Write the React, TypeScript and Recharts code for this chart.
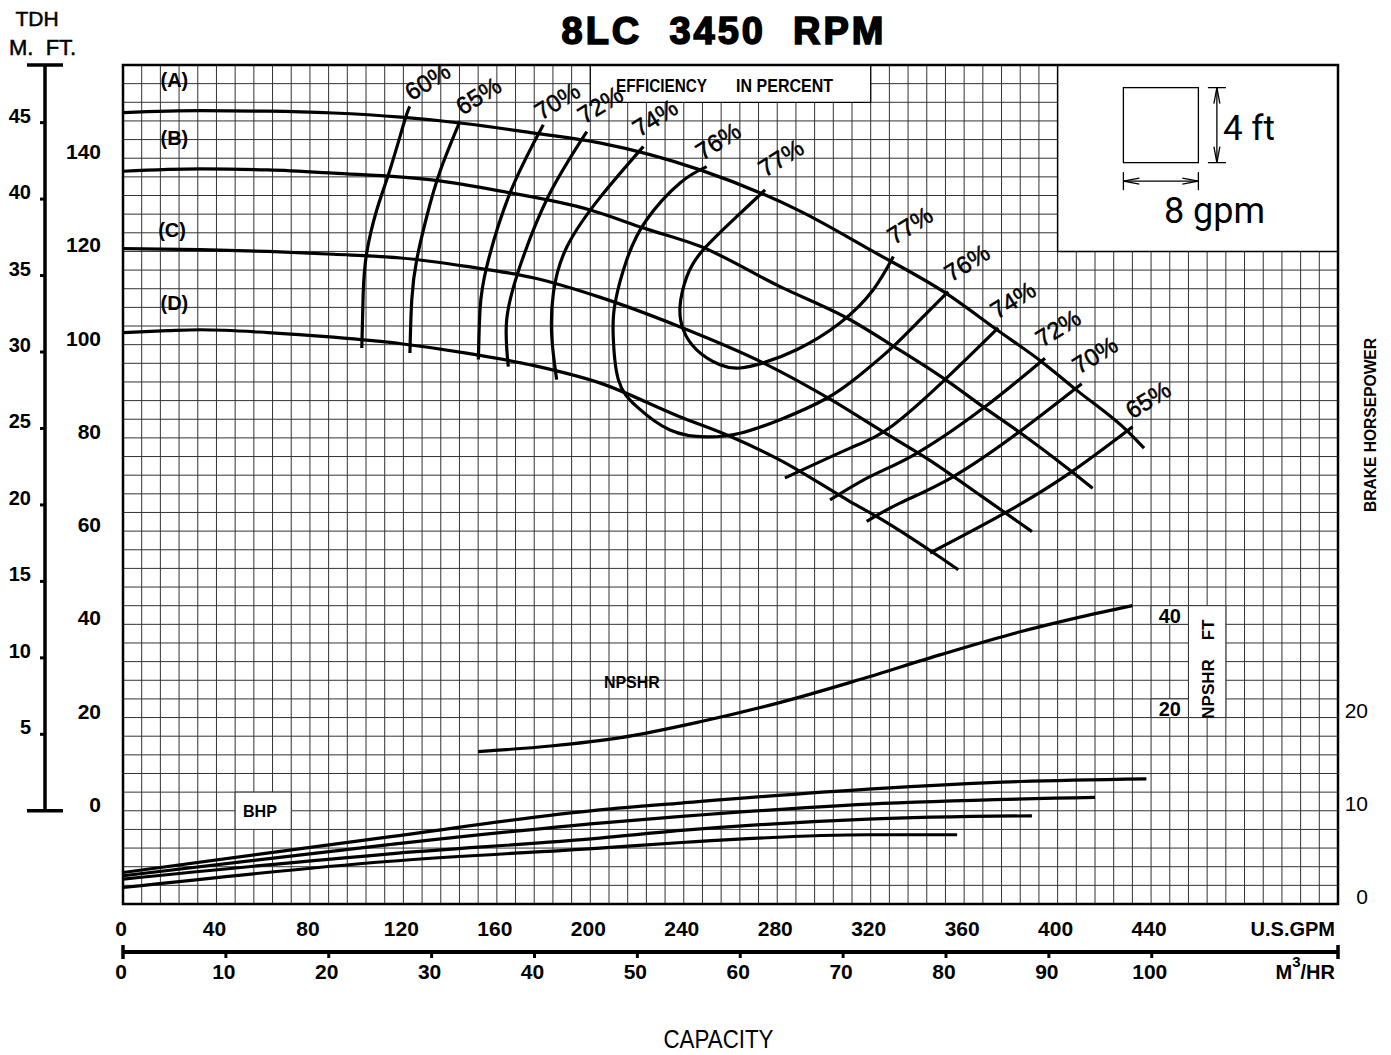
import React from "react";
import {
  ComposedChart,
  Line,
  XAxis,
  YAxis,
  CartesianGrid,
  ReferenceArea,
  ReferenceDot,
} from "recharts";

const SANS = "'Liberation Sans', Arial, Helvetica, sans-serif";
const NARROW = "'Liberation Sans Narrow', 'Arial Narrow', 'Liberation Sans', sans-serif";

const GPM_PER_M3H = 4.40287;
const FT_PER_M = 3.28084;

const GPM_MAX = 520;
const FT_MIN = -20;
const FT_MAX = 160;
const M_MIN = FT_MIN / FT_PER_M;
const M_MAX = FT_MAX / FT_PER_M;
const BHP_MAX = 90; // 0 bhp sits on the -20 ft line, 10 bhp per 20 ft

// grid is 8 gpm x 4 ft
const GRID_GPM = Array.from({ length: GPM_MAX / 8 + 1 }, (_, i) => i * 8);
const GRID_FT = Array.from({ length: (FT_MAX - FT_MIN) / 4 + 1 }, (_, i) => FT_MIN + i * 4);

const GPM_LABELS = [0, 40, 80, 120, 160, 200, 240, 280, 320, 360, 400, 440];
const M3_LABELS = [0, 10, 20, 30, 40, 50, 60, 70, 80, 90, 100];
const FT_LABELS = [0, 20, 40, 60, 80, 100, 120, 140];
const M_LABELS = [0, 5, 10, 15, 20, 25, 30, 35, 40, 45];
const BHP_LABELS = [0, 10, 20];

// m3/hr scale drawn on the gpm axis: tick positions in gpm, plus the right end
const M3_TICKS = [...M3_LABELS.map((v) => v * GPM_PER_M3H), GPM_MAX];

// head curves per impeller trim, [gpm, ft]
const headA = [
  [0, 149.8], [33, 150.2], [62, 150.1], [90, 149.7], [119, 148.8], [147, 147.4],
  [176, 145.4], [204, 143.3], [247, 137.5], [290, 128.6], [321, 120.0], [352, 111.1],
  [374, 103.2], [393, 96.4], [408, 90.3], [430, 81.4], [437, 77.8],
];
const headB = [
  [0, 137.2], [33, 137.7], [62, 137.5], [90, 136.8], [133, 135.3], [161, 133.0],
  [200, 128.9], [223, 125.0], [247, 121.1], [281, 112.5], [311, 105.4], [330, 99.6],
  [352, 92.5], [368, 86.7], [384, 81.1], [406, 72.8], [415, 69.2],
];
const headC = [
  [0, 120.6], [33, 120.4], [62, 120.0], [90, 119.4], [119, 118.6], [147, 116.8],
  [176, 114.3], [204, 110.2], [238, 103.9], [274, 96.1], [303, 88.2], [324, 81.7],
  [345, 75.3], [368, 67.3], [389, 59.9],
];
const headD = [
  [0, 102.6], [19, 103.0], [33, 103.2], [62, 102.6], [90, 101.6], [119, 100.2],
  [147, 98.2], [176, 95.5], [204, 91.8], [238, 84.6], [260, 80.3], [281, 75.3],
  [311, 66.4], [325, 62.4], [347, 55.3], [357.5, 51.7],
];

// iso-efficiency lines, [gpm, ft]
const eff60 = [[122.8, 151.1], [120.7, 148.3], [114.3, 137.6], [108.6, 128.9], [104.3, 119.7], [102.8, 111.1], [102.2, 99.3]];
const eff65 = [[144.2, 147.9], [135.7, 137.2], [130.0, 127.5], [125.7, 118.2], [123.6, 109.7], [122.8, 98.2]];
const eff70 = [[179.9, 147.2], [165.6, 132.5], [155.7, 116.8], [152.8, 107.5], [152.1, 96.8]];
const eff72 = [[198.5, 145.7], [182.0, 131.8], [169.9, 116.8], [164.2, 105.3], [164.9, 95.3]];
const eff74 = [[222.7, 142.5], [204.2, 131.6], [189.9, 120.9], [184.2, 111.1], [183.5, 101.8], [185.6, 92.5]];
const eff76 = [
  [249.8, 138.2], [238.4, 134.7], [224.1, 126.8], [215.6, 118.2], [210.6, 108.9], [209.8, 101.8],
  [212.0, 92.5], [219.9, 86.7], [234.1, 81.7], [249.8, 80.2], [264.1, 81.0], [281.2, 83.9],
  [301.2, 88.5], [315.4, 93.5], [329.0, 99.3], [341.1, 105.3], [353.2, 111.4],
];
const eff77 = [
  [274.8, 133.2], [262.7, 127.5], [248.4, 120.4], [241.3, 114.6], [238.4, 108.2], [239.8, 103.2],
  [245.5, 98.9], [255.5, 95.7], [264.1, 95.0], [274.0, 96.1], [288.3, 98.9], [306.7, 104.6],
  [321.1, 111.8], [329.7, 118.9],
];
const eff74r = [[374.6, 103.6], [351.8, 92.5], [329.0, 82.5], [311.2, 77.8], [283.3, 71.4]];
const eff72r = [[394.6, 97.1], [368.2, 86.4], [339.7, 76.7], [319.7, 71.7], [302.6, 66.7]];
const eff70r = [[410.3, 91.6], [383.9, 81.4], [355.4, 71.7], [332.5, 66.0], [318.3, 62.1]];
const eff65r = [[432.1, 82.4], [405.3, 72.5], [377.5, 63.9], [345.4, 55.3]];

// NPSHR, [gpm, ft]
const npshr = [
  [152, 12.7], [183, 13.9], [213, 15.7], [247, 19.1], [281, 23.2], [315, 28.1],
  [350, 33.5], [384, 38.4], [410, 41.6], [432, 44.0],
];

// brake horsepower per trim, [gpm, bhp]
const bhpA = [[0, 3.38], [113, 7.18], [204, 10.1], [239, 10.83], [319, 12.33], [384, 13.14], [438, 13.43]];
const bhpB = [[0, 3.03], [113, 6.35], [204, 8.68], [239, 9.39], [319, 10.72], [416, 11.43]];
const bhpC = [[0, 2.67], [113, 5.36], [204, 7.07], [239, 7.89], [319, 9.11], [389, 9.46]];
const bhpD = [[0, 1.77], [113, 4.56], [204, 6.0], [239, 6.6], [319, 7.43], [357, 7.43]];

const HEADS = [headA, headB, headC, headD];
const EFFS = [eff60, eff65, eff70, eff72, eff74, eff76, eff77, eff74r, eff72r, eff70r, eff65r];
const BHPS = [bhpA, bhpB, bhpC, bhpD];

const headNames = ["(A)", "(B)", "(C)", "(D)"];
const headLabelAt = [[22, 156.8], [22, 144.4], [21, 124.6], [22, 109]];

const effNames = ["60%", "65%", "70%", "72%", "74%", "76%", "77%", "77%", "76%", "74%", "72%", "70%", "65%"];
const effLabelAt = [
  [130.3, 156.5], [152.1, 153.4], [185.8, 152.3], [204.2, 151.5], [227.7, 148.7], [254.7, 143.7],
  [281.6, 140.1], [336.8, 125.6], [361.2, 117.6], [380.9, 109.6], [400.2, 103.6], [416, 97.8], [438.7, 88.2],
];

const W = 1391;
const H = 1055;
const TOP = 65;
const GPM_AXIS_H = 48;
const M3_AXIS_H = 103;
const PLOT_H = H - TOP - GPM_AXIS_H - M3_AXIS_H;
const PX_PER_M = PLOT_H / (M_MAX - M_MIN);
const LINE_W = 3.2;

const curve = (rows: number[][]) => rows.map(([x, y]) => ({ x, y }));

const FtTick = ({ x, y, payload }: any) => {
  const v = payload.value;
  if (!FT_LABELS.includes(v)) return <g />;
  return (
    <text x={x - 22} y={y + 1} textAnchor="end" fontFamily={SANS} fontWeight="bold" fontSize={21} fill="#000">
      {v}
    </text>
  );
};

const MTick = ({ x, y, payload }: any) => {
  const v = payload.value;
  if (v === 0) {
    const top = y - (M_MAX - v) * PX_PER_M;
    return (
      <g stroke="#000">
        <line x1={x} x2={x} y1={y} y2={top} strokeWidth={3.5} />
        <line x1={x - 18} x2={x + 18} y1={y} y2={y} strokeWidth={3.5} />
        <line x1={x - 18} x2={x + 18} y1={top} y2={top} strokeWidth={3.5} />
      </g>
    );
  }
  return (
    <g>
      <line x1={x - 5} x2={x} y1={y} y2={y} stroke="#000" strokeWidth={3} />
      <text x={x - 14} y={y} textAnchor="end" fontFamily={SANS} fontWeight="bold" fontSize={20} fill="#000">
        {v}
      </text>
    </g>
  );
};

const BhpTick = ({ x, y, payload }: any) => (
  <text x={x + 30} y={y} textAnchor="end" fontFamily={SANS} fontSize={21} fill="#000">
    {payload.value}
  </text>
);

const GpmTick = ({ x, y, payload }: any) => {
  const v = payload.value;
  if (!GPM_LABELS.includes(v)) return <g />;
  return (
    <text x={x - 2} y={y + 32} textAnchor="middle" fontFamily={SANS} fontWeight="bold" fontSize={21} fill="#000">
      {v}
    </text>
  );
};

const M3Tick = ({ x, y, payload }: any) => {
  const m3 = Math.round(payload.value / GPM_PER_M3H);
  const isEnd = payload.value >= GPM_MAX - 0.01;
  const cap = m3 === 0 || isEnd;
  return (
    <g>
      {cap ? (
        <line x1={x} x2={x} y1={y - 7} y2={y + 7} stroke="#000" strokeWidth={3.5} />
      ) : (
        <line x1={x} x2={x} y1={y} y2={y + 6} stroke="#000" strokeWidth={3} />
      )}
      {!isEnd && (
        <text x={x - 2} y={y + 27} textAnchor="middle" fontFamily={SANS} fontWeight="bold" fontSize={21} fill="#000">
          {m3}
        </text>
      )}
    </g>
  );
};

const GpmLabel = ({ viewBox }: any) => (
  <text x={viewBox.x + viewBox.width - 3} y={viewBox.y + 32} textAnchor="end" fontFamily={SANS} fontWeight="bold" fontSize={20} fill="#000">
    U.S.GPM
  </text>
);

const M3Label = ({ viewBox }: any) => (
  <g>
    <text x={viewBox.x + viewBox.width - 3} y={viewBox.y + 27} textAnchor="end" fontFamily={SANS} fontWeight="bold" fontSize={20} fill="#000">
      <tspan>M</tspan>
      <tspan dy={-12} fontSize={15}>3</tspan>
      <tspan dy={12}>/HR</tspan>
    </text>
    <text x={viewBox.x + viewBox.width / 2 - 12} y={viewBox.y + 96} textAnchor="middle" fontFamily={NARROW} fontSize={25} textLength={110} lengthAdjust="spacingAndGlyphs" fill="#000">
      CAPACITY
    </text>
  </g>
);

const BhpLabel = ({ viewBox }: any) => {
  const cx = viewBox.x + 32;
  const cy = viewBox.y + 360;
  return (
    <text x={cx} y={cy} transform={`rotate(-90 ${cx} ${cy})`} textAnchor="middle" dominantBaseline="central" fontFamily={NARROW} fontWeight="bold" fontSize={16} textLength={174} lengthAdjust="spacingAndGlyphs" fill="#000">
      BRAKE HORSEPOWER
    </text>
  );
};

const textAt = (t: string, opts: any = {}) => (p: any) => {
  const { rot = 0, size = 18, weight = "normal", family = SANS, anchor = "middle", base = "central", sw = 0, len } = opts;
  return (
    <text
      x={p.cx}
      y={p.cy}
      transform={rot ? `rotate(${rot} ${p.cx} ${p.cy})` : undefined}
      textAnchor={anchor}
      dominantBaseline={base}
      fontFamily={family}
      fontWeight={weight}
      fontSize={size}
      textLength={len}
      lengthAdjust={len ? "spacingAndGlyphs" : undefined}
      fill="#000"
      stroke={sw ? "#000" : "none"}
      strokeWidth={sw}
      style={{ whiteSpace: "pre" }}
    >
      {t}
    </text>
  );
};

const LegendGlyph = ({ cx, cy }: any) => {
  const s = 37.5;
  const ax = cx + 56;
  const ay = cy + 56;
  return (
    <g stroke="#000" fill="none" strokeWidth={1.3}>
      <rect x={cx - s} y={cy - s} width={2 * s} height={2 * s} fill="#fff" />
      <line x1={ax} x2={ax} y1={cy - s} y2={cy + s} />
      <line x1={ax - 9} x2={ax + 9} y1={cy - s} y2={cy - s} />
      <line x1={ax - 9} x2={ax + 9} y1={cy + s} y2={cy + s} />
      <polyline points={`${ax - 3},${cy - s + 16} ${ax},${cy - s} ${ax + 3},${cy - s + 16}`} />
      <polyline points={`${ax - 3},${cy + s - 16} ${ax},${cy + s} ${ax + 3},${cy + s - 16}`} />
      <line x1={cx - s} x2={cx + s} y1={ay} y2={ay} />
      <line x1={cx - s} x2={cx - s} y1={ay - 9} y2={ay + 9} />
      <line x1={cx + s} x2={cx + s} y1={ay - 9} y2={ay + 9} />
      <polyline points={`${cx - s + 16},${ay - 3} ${cx - s},${ay} ${cx - s + 16},${ay + 3}`} />
      <polyline points={`${cx + s - 16},${ay - 3} ${cx + s},${ay} ${cx + s - 16},${ay + 3}`} />
      <text x={ax + 6} y={cy + 15} stroke="none" fill="#000" fontFamily="Roboto, sans-serif" fontSize={35}>
        4 ft
      </text>
      <text x={cx + 3} y={cy + 98} stroke="none" fill="#000" fontFamily="Roboto, sans-serif" fontSize={36}>
        8 gpm
      </text>
    </g>
  );
};

const whiteBox = { fill: "#fff", fillOpacity: 1, stroke: "#333", strokeWidth: 1 };

export default function App() {
  return (
    <div style={{ position: "absolute", left: 0, top: 0, width: W, height: H, background: "#fff" }}>
      <svg width={W} height={H} style={{ position: "absolute", left: 0, top: 0, pointerEvents: "none" }}>
        <text x={724} y={44} textAnchor="middle" fontFamily={SANS} fontWeight="bold" fontSize={38} letterSpacing={3} stroke="#000" strokeWidth={1.6} fill="#000" style={{ whiteSpace: "pre" }}>
          8LC  3450  RPM
        </text>
        <text x={37} y={26} textAnchor="middle" fontFamily={SANS} fontSize={21} fill="#000" stroke="#000" strokeWidth={0.5}>
          TDH
        </text>
        <text x={9} y={55} fontFamily={SANS} fontSize={22} fill="#000" stroke="#000" strokeWidth={0.5} style={{ whiteSpace: "pre" }}>
          M.  FT.
        </text>
      </svg>
      <div style={{ position: "absolute", left: 0, top: 0 }}>
        <ComposedChart width={W} height={H} margin={{ top: TOP, right: 0, bottom: 0, left: 0 }}>
          <XAxis
            type="number"
            dataKey="x"
            domain={[0, GPM_MAX]}
            allowDataOverflow
            ticks={GRID_GPM}
            interval={0}
            height={GPM_AXIS_H}
            axisLine={false}
            tickLine={false}
            tickSize={0}
            tickMargin={0}
            tick={<GpmTick />}
            label={GpmLabel}
          />
          <XAxis
            xAxisId="m3"
            type="number"
            dataKey="x"
            domain={[0, GPM_MAX]}
            allowDataOverflow
            ticks={M3_TICKS}
            interval={0}
            height={M3_AXIS_H}
            axisLine={{ stroke: "#000", strokeWidth: 4 }}
            tickLine={false}
            tickSize={0}
            tickMargin={0}
            tick={<M3Tick />}
            label={M3Label}
          />
          <YAxis
            type="number"
            domain={[FT_MIN, FT_MAX]}
            allowDataOverflow
            ticks={GRID_FT}
            interval={0}
            width={78}
            axisLine={false}
            tickLine={false}
            tickSize={0}
            tickMargin={0}
            tick={<FtTick />}
          />
          <YAxis
            yAxisId="m"
            type="number"
            domain={[M_MIN, M_MAX]}
            allowDataOverflow
            ticks={M_LABELS}
            interval={0}
            width={45}
            axisLine={false}
            tickLine={false}
            tickSize={0}
            tickMargin={0}
            tick={<MTick />}
          />
          <YAxis
            yAxisId="bhp"
            orientation="right"
            type="number"
            domain={[0, BHP_MAX]}
            allowDataOverflow
            ticks={BHP_LABELS}
            interval={0}
            width={53}
            axisLine={false}
            tickLine={false}
            tickSize={0}
            tickMargin={0}
            tick={<BhpTick />}
            label={BhpLabel}
          />
          <CartesianGrid stroke="#333" strokeWidth={1} />

          {/* white boxes cut out of the grid */}
          <ReferenceArea x1={400} x2={520} y1={120} y2={160} {...whiteBox} stroke="#000" strokeWidth={1.5} />
          <ReferenceArea x1={200} x2={320} y1={152} y2={160} {...whiteBox} stroke="#000" strokeWidth={1.2} />
          <ReferenceArea x1={48} x2={72} y1={-4} y2={4} {...whiteBox} />
          <ReferenceArea x1={440} x2={456} y1={40} y2={44} {...whiteBox} />
          <ReferenceArea x1={440} x2={456} y1={20} y2={24} {...whiteBox} />
          <ReferenceArea x1={456} x2={472} y1={20} y2={44} {...whiteBox} />
          <ReferenceArea x1={0} x2={GPM_MAX} y1={FT_MIN} y2={FT_MAX} fill="none" fillOpacity={0} stroke="#000" strokeWidth={2.5} />

          {HEADS.map((h, i) => (
            <Line key={"head" + i} data={curve(h)} dataKey="y" type="monotone" stroke="#000" strokeWidth={LINE_W} dot={false} activeDot={false} isAnimationActive={false} />
          ))}
          {EFFS.map((e, i) => (
            <Line key={"eff" + i} data={curve(e)} dataKey="y" type="natural" stroke="#000" strokeWidth={LINE_W} dot={false} activeDot={false} isAnimationActive={false} />
          ))}
          <Line data={curve(npshr)} dataKey="y" type="monotone" stroke="#000" strokeWidth={LINE_W} dot={false} activeDot={false} isAnimationActive={false} />
          {BHPS.map((b, i) => (
            <Line key={"bhp" + i} yAxisId="bhp" data={curve(b)} dataKey="y" type="monotone" stroke="#000" strokeWidth={LINE_W} dot={false} activeDot={false} isAnimationActive={false} />
          ))}

          {headNames.map((t, i) => (
            <ReferenceDot key={"hl" + i} x={headLabelAt[i][0]} y={headLabelAt[i][1]} r={0} shape={textAt(t, { size: 20, weight: "bold" })} />
          ))}
          {effNames.map((t, i) => (
            <ReferenceDot key={"el" + i} x={effLabelAt[i][0]} y={effLabelAt[i][1]} r={0} shape={textAt(t, { size: 24, rot: -32, sw: 0.5 })} />
          ))}
          <ReferenceDot x={211} y={154.3} r={0} shape={textAt("EFFICIENCY", { size: 18, weight: "bold", family: NARROW, anchor: "start", base: "alphabetic", len: 91 })} />
          <ReferenceDot x={262.4} y={154.3} r={0} shape={textAt("IN PERCENT", { size: 18, weight: "bold", family: NARROW, anchor: "start", base: "alphabetic", len: 97 })} />
          <ReferenceDot x={217.8} y={27.5} r={0} shape={textAt("NPSHR", { size: 17, weight: "bold", family: NARROW, len: 56 })} />
          <ReferenceDot x={58.6} y={-0.2} r={0} shape={textAt("BHP", { size: 17, weight: "bold", family: NARROW, len: 34 })} />
          <ReferenceDot x={448} y={41.8} r={0} shape={textAt("40", { size: 20, weight: "bold" })} />
          <ReferenceDot x={448} y={21.8} r={0} shape={textAt("20", { size: 20, weight: "bold" })} />
          <ReferenceDot x={464.4} y={30.4} r={0} shape={textAt("NPSHR    FT", { size: 17, weight: "bold", family: NARROW, rot: -90 })} />
          <ReferenceDot x={444.2} y={147.1} r={0} shape={LegendGlyph} />
        </ComposedChart>
      </div>
    </div>
  );
}
